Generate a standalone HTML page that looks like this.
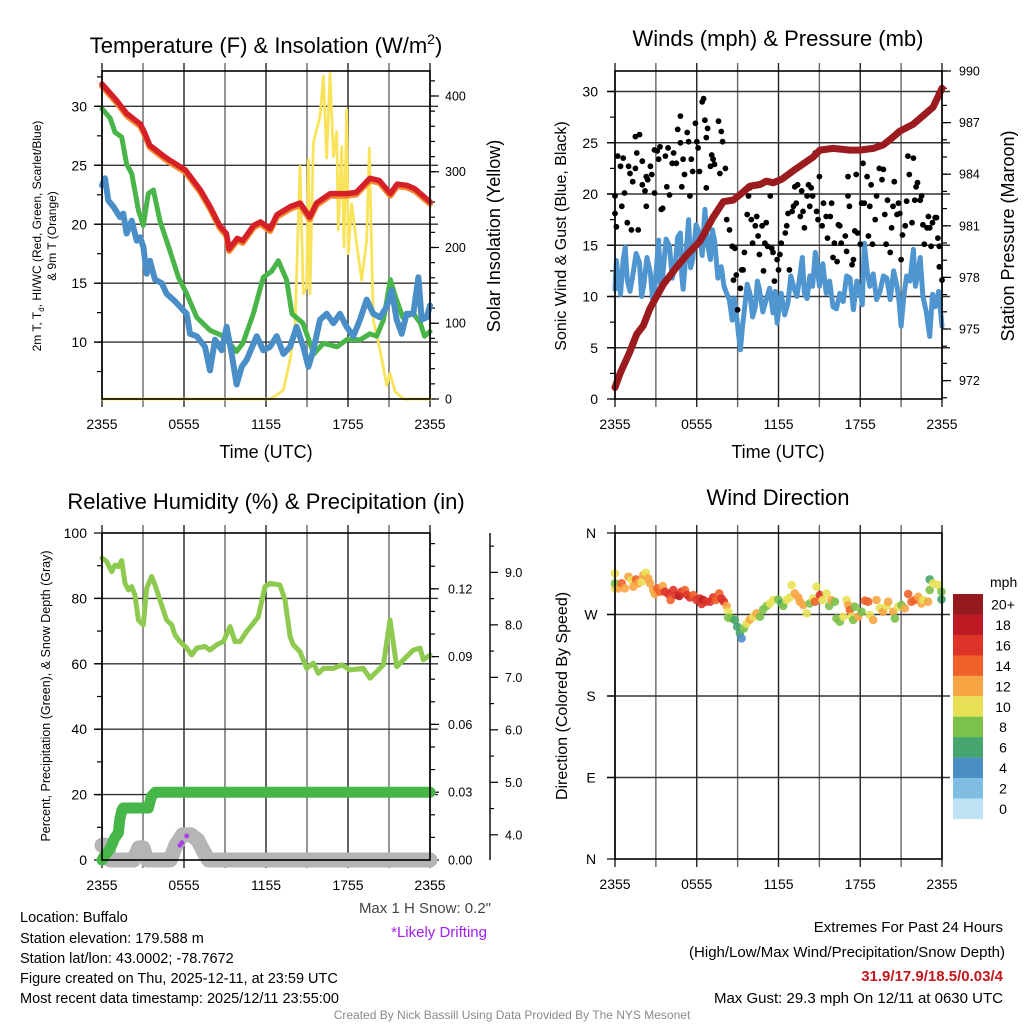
<!DOCTYPE html>
<html><head><meta charset="utf-8">
<style>
html,body{margin:0;padding:0;background:#fff;}
svg{display:block;font-family:"Liberation Sans",Arial,sans-serif;}
</style></head>
<body>
<svg id="fig" xmlns="http://www.w3.org/2000/svg" width="1024" height="1024" viewBox="0 0 1024 1024">
<rect x="0" y="0" width="1024" height="1024" fill="#fff"/>
<g id="p1"></g>
<g id="p2"></g>
<g id="p3"></g>
<g id="p4"></g>

<text x="266" y="53" font-size="22" text-anchor="middle">Temperature (F) &amp; Insolation (W/m<tspan font-size="14" dy="-9">2</tspan><tspan dy="9">)</tspan></text>
<text x="778" y="46" font-size="22" text-anchor="middle">Winds (mph) &amp; Pressure (mb)</text>
<text x="266" y="509" font-size="22" text-anchor="middle">Relative Humidity (%) &amp; Precipitation (in)</text>
<text x="778" y="505" font-size="22" text-anchor="middle">Wind Direction</text>

<text x="266" y="458" font-size="18" text-anchor="middle">Time (UTC)</text>
<text x="778" y="458" font-size="18" text-anchor="middle">Time (UTC)</text>

<text transform="translate(41,236) rotate(-90)" font-size="12" text-anchor="middle">2m T, T<tspan font-size="8" dy="3">d</tspan><tspan dy="-3">, HI/WC (Red, Green, Scarlet/Blue)</tspan></text>
<text transform="translate(56,236) rotate(-90)" font-size="12" text-anchor="middle">&amp; 9m T (Orange)</text>
<text transform="translate(500,236) rotate(-90)" font-size="18" text-anchor="middle">Solar Insolation (Yellow)</text>
<text transform="translate(566,236) rotate(-90)" font-size="16" text-anchor="middle">Sonic Wind &amp; Gust (Blue, Black)</text>
<text transform="translate(1014,236) rotate(-90)" font-size="18" text-anchor="middle">Station Pressure (Maroon)</text>
<text transform="translate(50,696) rotate(-90)" font-size="12.5" text-anchor="middle">Percent, Precipitation (Green), &amp; Snow Depth (Gray)</text>
<text transform="translate(567,696) rotate(-90)" font-size="16" text-anchor="middle">Direction (Colored By Speed)</text>

<text x="491" y="913" font-size="15" fill="#444" text-anchor="end">Max 1 H Snow: 0.2"</text>
<text x="487" y="937" font-size="15" fill="#a020f0" text-anchor="end">*Likely Drifting</text>

<g font-size="14.5">
<text x="20" y="922">Location: Buffalo</text>
<text x="20" y="943">Station elevation: 179.588 m</text>
<text x="20" y="963">Station lat/lon: 43.0002; -78.7672</text>
<text x="20" y="983">Figure created on Thu, 2025-12-11, at 23:59 UTC</text>
<text x="20" y="1003">Most recent data timestamp: 2025/12/11 23:55:00</text>
</g>
<g font-size="15" text-anchor="end">
<text x="1003" y="932">Extremes For Past 24 Hours</text>
<text x="1005" y="957">(High/Low/Max Wind/Precipitation/Snow Depth)</text>
<text x="1003" y="981" fill="#c0181e" font-weight="bold">31.9/17.9/18.5/0.03/4</text>
<text x="1003" y="1003">Max Gust: 29.3 mph On 12/11 at 0630 UTC</text>
</g>
<text x="512" y="1019" font-size="12" fill="#8a8a8a" text-anchor="middle">Created By Nick Bassill Using Data Provided By The NYS Mesonet</text>
</svg>

<script>
// ---------- Panel 1 data ----------
const tempH = [0,1.07,1.8,2.8,3.1,3.5,4.5,5.0,6.1,7.2,7.9,8.6,9.1,9.3,9.9,10.3,11.1,11.6,12.3,12.8,13.8,14.5,15.2,15.7,16.7,17.9,18.6,19.6,20.3,21.1,21.6,22.3,22.9,24];
const tempV = [31.9,30.5,29.4,28.5,27.8,26.7,25.8,25.4,24.6,22.9,21.5,19.9,19.2,17.9,18.8,18.6,19.9,20.2,19.6,20.8,21.5,21.8,20.6,21.8,22.6,22.6,22.7,23.9,23.7,22.6,23.4,23.3,23.0,21.9];
const hiwcH = [0,0.59,0.95,1.44,1.8,2.17,2.66,3.02,3.39,3.76,4.24,4.98,5.59,6.2,6.93,7.9,8.88,9.85,10.3,11.07,11.8,12.4,12.9,13.5,13.9,14.7,15.5,16.2,17.2,17.9,18.9,19.6,20.1,20.6,21.1,21.4,22.0,22.8,23.3,23.6,24];
const hiwcV = [29.8,29.0,27.8,27.4,25.1,24.3,21.2,19.9,22.6,22.9,20.3,17.7,15.5,14.1,12.1,11.0,10.5,9.2,9.9,12.4,15.5,16.0,16.9,15.3,12.4,11.6,9.0,9.9,9.6,10.2,10.2,10.7,10.5,11.9,15.3,14.1,12.1,12.4,11.6,10.5,10.9];
const dewH = [0,0.22,0.46,0.83,1.32,1.56,1.8,2.17,2.54,2.78,3.02,3.27,3.51,3.88,4.37,4.73,5.22,5.71,6.2,6.44,6.93,7.54,7.9,8.27,8.76,9.12,9.49,9.85,10.22,10.59,11.32,11.8,12.29,12.78,13.27,13.76,14.24,14.73,15.1,15.46,15.95,16.44,16.93,17.41,17.9,18.39,18.88,19.37,19.85,20.34,20.83,21.2,21.56,21.93,22.29,22.78,23.15,23.39,23.76,24];
const dewV = [23.3,23.9,22.0,21.5,20.6,20.9,19.2,20.3,18.6,18.9,18.1,15.8,16.9,15.3,15.0,14.1,13.6,13.0,12.4,10.7,10.5,9.6,7.6,10.2,9.3,11.3,9.0,6.4,7.9,8.5,10.5,9.3,9.6,10.5,9.0,9.6,11.3,9.6,7.9,9.3,11.9,12.4,11.6,12.4,11.3,10.5,11.9,13.6,12.4,12.1,13.0,14.4,11.9,10.7,12.4,12.4,15.5,11.9,12.1,13.1];
const solarH = [0,12.29,12.78,13.27,13.76,14.12,14.49,14.73,14.98,15.1,15.22,15.46,15.95,16.2,16.44,16.68,16.93,17.17,17.29,17.54,17.71,17.9,18.02,18.27,18.63,19.0,19.37,19.56,19.85,20.34,20.83,21.07,21.44,22.05,24];
const solarV = [0,0,5,12,52,96,307,139,148,316,139,338,373,426,318,430,320,353,223,333,201,382,192,258,205,157,210,331,104,65,18,34,10,0,0];
const p1LeftTicks = [10,15,20,25,30];
const p1RightTicks = [0,100,200,300,400];
// ---------- Panel 2 data ----------
const presH = [0,0.37,1.1,1.59,2.08,2.57,3.55,4.52,5.26,6.23,7.21,7.95,8.68,9.17,9.9,10.64,11.12,11.61,12.22,13.08,13.81,14.55,15.04,16.01,17.24,17.97,18.95,19.68,20.17,20.9,21.88,22.62,23.35,24];
const presV = [971.6,972.4,973.7,974.7,975.2,976.2,977.6,978.6,979.3,980.1,981.5,982.4,982.5,982.8,983.3,983.4,983.6,983.5,983.7,984.2,984.6,985.0,985.4,985.5,985.4,985.4,985.5,985.7,986.0,986.5,986.9,987.4,987.9,989.0];
const windH = [0,0.1,0.2,0.4,0.6,0.75,0.9,1.1,1.3,1.55,1.8,1.95,2.1,2.35,2.6,2.75,2.9,3.05,3.2,3.35,3.5,3.75,4.0,4.2,4.4,4.6,4.8,4.9,5.0,5.2,5.4,5.55,5.7,5.95,6.2,6.4,6.6,6.8,7.0,7.15,7.3,7.55,7.8,8.0,8.2,8.4,8.6,8.75,8.9,9.05,9.2,9.35,9.5,9.7,9.9,10.1,10.3,10.45,10.6,10.85,11.1,11.35,11.6,11.75,11.9,12.05,12.2,12.45,12.7,12.9,13.1,13.35,13.6,13.75,13.9,14.1,14.3,14.5,14.7,14.85,15.0,15.25,15.5,15.75,16.0,16.25,16.5,16.75,17.0,17.25,17.5,17.75,18.0,18.15,18.3,18.5,18.7,18.95,19.2,19.45,19.7,19.95,20.2,20.45,20.7,20.85,21.0,21.2,21.4,21.65,21.9,22.05,22.2,22.4,22.6,22.85,23.1,23.3,23.5,23.75,24.0];
const windV = [10.7,13.5,12.3,10.2,13.6,14.8,11.6,10.5,12.0,14.2,13.3,10.0,11.0,13.8,12.3,9.8,10.3,13.0,15.5,11.2,12.0,15.6,14.9,11.8,12.9,15.8,16.2,12.0,10.7,14.0,17.5,12.8,13.6,17.0,16.2,14.0,18.5,15.0,13.6,16.5,15.5,11.8,12.9,11.0,10.3,9.6,7.7,9.8,8.4,6.5,4.8,7.0,8.7,11.2,10.3,8.0,9.0,11.5,10.7,8.5,9.7,10.8,8.4,10.5,7.4,9.0,10.3,8.2,9.4,12.0,11.0,10.0,12.3,13.8,10.3,9.8,12.0,11.0,14.3,13.0,11.0,13.2,10.3,11.5,9.0,8.8,10.3,9.5,12.0,11.8,8.7,11.5,10.3,9.2,15.2,12.5,11.0,12.2,9.7,10.5,12.0,11.8,9.7,12.5,11.0,9.5,7.1,10.0,12.0,11.5,14.6,11.0,12.0,13.8,10.0,8.5,6.1,10.2,9.0,10.5,7.1];
const gustH = [0,0,0.1,0.2,0.4,0.5,0.6,0.7,0.9,1.0,1.1,1.2,1.3,1.5,1.6,1.7,1.5,1.8,2.0,2.0,2.2,2.3,2.3,2.4,2.6,2.7,2.9,2.9,3.1,3.2,3.3,3.4,3.5,3.7,3.8,3.9,4.0,4.2,4.3,4.5,4.6,4.8,4.8,4.9,5.0,5.1,5.3,5.4,5.5,5.6,5.7,5.9,6.0,6.1,6.2,6.4,6.5,6.6,6.7,6.7,6.8,7.0,7.1,7.2,7.3,7.6,7.7,7.8,7.9,8.1,8.2,8.4,8.6,8.7,8.8,8.9,9.0,9.2,9.3,9.4,9.5,9.7,9.8,9.9,10.0,10.1,10.3,10.4,10.5,10.6,10.8,10.9,11.0,11.1,11.2,11.4,11.5,11.6,11.7,11.9,12.0,12.1,12.2,12.5,12.6,12.7,12.8,13.0,13.1,13.2,13.3,13.4,13.6,13.7,13.8,13.9,14.1,14.2,14.3,14.4,14.5,14.7,14.8,14.9,15.0,15.2,15.3,15.5,15.6,15.8,15.9,16.0,16.1,16.3,16.4,16.5,16.6,16.9,17.0,17.1,17.1,17.2,17.4,17.5,17.6,17.7,17.8,18.0,18.1,18.2,18.3,18.5,18.6,18.7,18.8,18.9,19.1,19.2,19.4,19.6,19.7,19.8,19.9,20.0,20.2,20.3,20.4,20.5,20.7,20.8,20.9,21.0,21.1,21.3,21.4,21.5,21.6,21.8,21.9,22.0,22.1,22.2,22.4,22.5,22.6,22.7,22.9,23.0,23.1,23.2,23.3,23.5,23.6,23.7,23.8,23.8,24.0];
const gustV = [19.8,18.1,16.8,23.7,22.7,18.8,23.5,20.1,17.2,22.7,22.0,16.5,21.2,22.5,24.0,16.5,25.6,25.8,23.2,20.9,20.3,18.8,21.7,21.4,22.7,21.9,20.1,24.3,24.2,23.4,24.6,18.5,18.6,23.7,20.7,24.5,19.9,23.0,24.0,23.0,26.3,27.6,25.0,20.7,23.4,21.9,26.0,25.1,19.8,23.4,22.2,26.9,25.1,24.5,22.2,29.0,29.3,27.2,25.5,20.6,26.4,22.7,23.8,23.4,22.9,27.1,22.0,26.1,25.1,22.5,17.5,16.5,14.9,11.6,14.7,12.1,8.7,10.8,12.6,12.6,14.3,18.0,19.8,20.6,17.5,15.2,16.9,17.8,15.9,14.1,16.9,12.5,15.2,17.2,14.9,19.8,14.7,14.3,11.5,13.6,12.6,14.1,15.2,16.2,16.9,18.1,12.6,18.3,18.8,20.7,19.1,20.9,17.8,20.3,18.3,16.7,19.8,20.9,18.8,20.6,19.8,24.0,18.3,17.5,21.7,16.9,19.1,17.8,15.7,17.8,19.1,13.8,15.2,13.4,17.0,16.9,15.2,15.9,14.4,19.8,21.7,18.8,13.1,13.6,16.4,21.9,16.2,15.1,19.1,23.0,19.1,21.7,15.9,18.8,20.9,15.1,17.5,19.8,22.5,21.4,22.4,18.0,15.1,19.4,14.3,16.7,18.8,21.2,18.0,19.1,18.1,13.6,16.0,16.9,19.3,23.7,21.9,17.2,23.5,19.4,20.7,21.1,19.4,19.8,17.0,15.1,16.7,17.8,16.7,14.9,17.2,17.7,17.7,15.7,14.9,12.9,11.6];
const p2LeftTicks = [0,5,10,15,20,25,30];
const p2RightTicks = [972,975,978,981,984,987,990];
// ---------- Panel 3 data ----------
const rhH = [0,0.34,0.71,0.95,1.2,1.44,1.68,1.93,2.17,2.41,2.66,3.02,3.27,3.63,3.88,4.24,4.73,5.1,5.34,5.71,6.2,6.56,6.93,7.54,7.9,8.39,8.88,9.37,9.73,10.1,10.59,11.07,11.44,11.93,12.29,13.02,13.39,13.76,14.0,14.49,14.98,15.46,15.83,16.2,16.93,17.54,18.15,19.12,19.61,20.1,20.59,21.07,21.56,22.29,22.78,23.27,23.51,24];
const rhV = [92.3,91.3,88.2,90.2,89.7,91.6,84.6,82.6,83.6,81.1,73.4,71.9,83.1,86.7,84.1,79.5,73.4,71.9,68.8,66.8,64.8,62.7,64.8,65.3,64.2,65.8,66.8,71.4,66.8,66.8,69.9,72.4,74.4,83.6,84.6,84.1,79.5,68.3,65.8,63.7,58.6,60.2,57.1,58.6,58.6,59.7,58.1,58.6,55.6,57.6,59.7,73.4,59.1,62.2,64.2,64.8,61.2,62.7];
const precipH = [0,0.2,0.6,0.95,1.2,1.3,1.45,1.55,2.8,3.4,3.6,3.9,24];
const precipV = [0,0.002,0.005,0.01,0.012,0.018,0.022,0.023,0.023,0.023,0.028,0.03,0.03];
const snowH = [0,0.3,0.6,2.3,2.7,3.0,3.3,5.0,5.4,5.9,6.5,7.0,7.4,7.8,24];
const snowV = [3.8,3.8,3.52,3.52,3.75,3.75,3.52,3.52,3.8,4.0,4.0,3.9,3.7,3.52,3.52];
const driftH = [5.7,5.85,6.2];
const driftV = [3.8,3.85,3.98];
const p3LeftTicks = [0,20,40,60,80,100];
const p3PrecipTicks = [0,0.03,0.06,0.09,0.12];
const p3PrecipLabels = ['0.00','0.03','0.06','0.09','0.12'];
const p3SnowTicks = [4,5,6,7,8,9];
// ---------- Panel 4 data ----------
const dirH = [0,0,0,0.24,0.49,0.73,0.98,1.22,1.34,1.54,1.71,1.96,2.08,2.27,2.44,2.57,2.81,2.93,3.11,3.3,3.5,3.67,3.91,4.08,4.28,4.47,4.72,4.89,5.13,5.31,5.5,5.75,5.99,6.23,6.36,6.48,6.67,6.97,7.21,7.41,7.65,7.82,7.99,8.19,8.31,8.31,8.56,8.8,8.97,9.17,9.29,9.46,9.66,9.9,10.15,10.39,10.64,10.88,11.12,11.37,11.61,11.98,12.22,12.35,12.59,12.84,12.96,13.2,13.45,13.57,13.81,14.06,14.3,14.55,14.67,14.79,15.04,15.23,15.53,15.72,15.89,16.14,16.26,16.5,16.75,16.99,17.11,17.24,17.36,17.48,17.6,17.85,18.09,18.34,18.58,18.7,18.95,19.19,19.44,19.68,19.93,20.05,20.42,20.54,20.78,21.03,21.27,21.52,21.76,22.0,22.25,22.49,22.62,22.98,23.1,23.1,23.35,23.72,23.96,23.96];
const dirDeg = [315.4,298.9,304.4,298.9,304.4,298.9,311.7,308.1,300.7,308.8,304.4,306.2,313.6,316.2,309.9,304.4,297.0,292.6,298.9,295.2,301.4,295.2,292.6,286.0,297.0,291.5,290.4,295.2,297.0,291.5,288.9,291.5,286.0,287.8,281.6,286.0,284.1,284.1,288.9,286.0,293.3,287.8,284.1,279.4,273.1,266.5,265.7,263.9,256.5,249.2,243.7,254.7,260.2,264.6,267.6,271.3,267.6,275.7,279.4,282.3,286.0,286.7,282.3,279.4,286.0,288.9,302.5,293.3,288.9,284.1,280.5,271.3,282.3,287.8,284.1,300.7,291.5,286.0,293.3,279.4,286.0,284.1,265.7,262.1,267.6,286.0,280.5,275.0,267.6,263.9,278.6,267.6,273.1,285.2,284.1,269.4,263.9,286.0,276.8,273.1,279.4,284.1,273.1,265.7,278.6,280.5,276.8,292.6,284.1,286.0,289.6,282.3,286.0,284.1,308.8,297.0,304.4,302.5,295.2,286.7];
const dirSpd = [10,10,8,12,14,12,12,10,12,14,12,10,12,10,12,12,12,12,14,14,12,16,16,14,16,16,18,16,14,16,16,14,16,16,16,18,16,16,16,14,14,16,16,12,10,8,8,6,6,6,4,8,10,12,10,12,8,8,8,10,10,8,6,8,10,10,10,12,12,12,12,10,8,10,14,10,16,10,10,8,12,8,8,8,10,10,12,14,10,8,8,12,8,14,14,10,12,12,10,12,10,12,12,8,10,8,12,14,14,14,12,12,10,12,6,8,10,10,8,6];
const dirTicks = [0,90,180,270,360];
const dirLabels = ['N','E','S','W','N'];
const cbLabels = ['20+','18','16','14','12','10','8','6','4','2','0'];
const cbColors = ['#941a1d','#bd1c25','#dd3328','#f0612a','#f7a542','#e8e157','#7cc14a','#46a56e','#4a8fc6','#7fbde3','#bde3f5'];
const timeTicks = [0,6,12,18,24];
const timeLabels = ['2355','0555','1155','1755','2355'];

const NS='http://www.w3.org/2000/svg';
function mk(parent, tag, attrs){
  const e=document.createElementNS(NS,tag);
  for(const k in attrs) e.setAttribute(k,attrs[k]);
  parent.appendChild(e); return e;
}
function scale(d0,d1,r0,r1){ return v => r0+(v-d0)/(d1-d0)*(r1-r0); }

function frame(g, b, xs, gridY, name){
  for(let h=0; h<=24; h+=3){
    const x=xs(h);
    const l=mk(g,'line',{x1:x,x2:x,y1:b.y0-8,y2:b.y1+8,stroke:(h%6===0?'#222':'#666'),'stroke-width':1.4});
    
    
  }
  gridY.forEach(y=>{
    const l=mk(g,'line',{x1:b.x0-8,x2:b.x1+8,y1:y,y2:y,stroke:'#333','stroke-width':1.4});
    
    
  });
  timeTicks.forEach((t,i)=>{
    const tx=mk(g,'text',{x:xs(t),y:b.y1+30,'font-size':14,'text-anchor':'middle'});
    tx.textContent=timeLabels[i];
    
    
  });
}
function box(g,b,name){
  const r=mk(g,'rect',{x:b.x0,y:b.y0,width:b.x1-b.x0,height:b.y1-b.y0,fill:'none',stroke:'#000','stroke-width':1.6});
  
  
}
function axisTicks(g, x, dir, ys, len, name){
  ys.forEach(y=>{
    const l=mk(g,'line',{x1:x,x2:x+dir*len,y1:y,y2:y,stroke:'#000','stroke-width':1.2});
    
    
  });
}
function labels(g, x, anchor, ys, txts, fs, name){
  ys.forEach((y,i)=>{
    const t=mk(g,'text',{x:x,y:y+fs*0.36,'font-size':fs,'text-anchor':anchor});
    t.textContent=txts[i];
    
    
  });
}
function path(g, H, V, xs, ys, attrs, name){
  let d='';
  H.forEach((h,i)=>{ d+=(i?'L':'M')+xs(h).toFixed(1)+','+ys(V[i]).toFixed(1); });
  const p=mk(g,'path',Object.assign({d:d,fill:'none','stroke-linejoin':'round','stroke-linecap':'round'},attrs));
  
  
  return p;
}
function range(a,b,s){ const r=[]; for(let v=a; v<=b+1e-9; v+=s) r.push(+v.toFixed(4)); return r; }

// ===== Panel 1 =====
(function(){
  const g=document.getElementById('p1');
  const b={x0:102,x1:430,y0:71,y1:399};
  const xs=scale(0,24,b.x0,b.x1);
  const yl=scale(5.17,33,b.y1,b.y0);
  const yr=scale(0,433,b.y1,b.y0);
  frame(g,b,xs,p1LeftTicks.map(yl),'p1');
  axisTicks(g,b.x0,-1,range(7.5,32.5,2.5).map(yl),5,'p1-left-minor-tick');
  axisTicks(g,b.x0,-1,p1LeftTicks.map(yl),8,'p1-left-tick');
  axisTicks(g,b.x1,1,range(0,420,20).map(yr),5,'p1-right-minor-tick');
  axisTicks(g,b.x1,1,p1RightTicks.map(yr),9,'p1-right-tick');
  labels(g,87,'end',p1LeftTicks.map(yl),p1LeftTicks.map(String),14,'p1-left-tick-label');
  labels(g,445,'start',p1RightTicks.map(yr),p1RightTicks.map(String),12.5,'p1-right-tick-label');
  path(g,solarH,solarV,xs,yr,{stroke:'#f9e35a','stroke-width':2.8},'solar-line');
  path(g,tempH,tempV.map(v=>v-0.18),xs,yl,{stroke:'#f4892f','stroke-width':6},'temp-9m-line');
  path(g,tempH,tempV,xs,yl,{stroke:'#d62027','stroke-width':5.5},'temp-2m-line');
  path(g,hiwcH,hiwcV,xs,yl,{stroke:'#49b549','stroke-width':5},'heat-index-line');
  path(g,dewH,dewV,xs,yl,{stroke:'#4a8ec8','stroke-width':6},'dewpoint-line');
  box(g,b,'p1');
})();

// ===== Panel 2 =====
(function(){
  const g=document.getElementById('p2');
  const b={x0:615,x1:942,y0:71,y1:399};
  const xs=scale(0,24,b.x0,b.x1);
  const yl=scale(0,32,b.y1,b.y0);
  const yr=scale(970.93,990,b.y1,b.y0);
  frame(g,b,xs,p2LeftTicks.slice(1).map(yl),'p2');
  axisTicks(g,b.x0,-1,range(0,30,2.5).map(yl),5,'p2-left-minor-tick');
  axisTicks(g,b.x0,-1,p2LeftTicks.map(yl),8,'p2-left-tick');
  axisTicks(g,b.x1,1,range(971,990,1).map(yr),5,'p2-right-minor-tick');
  axisTicks(g,b.x1,1,p2RightTicks.map(yr),9,'p2-right-tick');
  labels(g,598,'end',p2LeftTicks.map(yl),p2LeftTicks.map(String),14,'p2-left-tick-label');
  labels(g,959,'start',p2RightTicks.map(yr),p2RightTicks.map(String),12.5,'p2-right-tick-label');
  path(g,windH,windV,xs,yl,{stroke:'#4f95d0','stroke-width':5},'sonic-wind-line');
  gustH.forEach((h,i)=>{
    const c=mk(g,'circle',{cx:xs(h).toFixed(1),cy:yl(gustV[i]).toFixed(1),r:2.9,fill:'#000'});
    
    
  });
  path(g,presH,presV,xs,yr,{stroke:'#9b1b1e','stroke-width':7},'pressure-line');
  box(g,b,'p2');
})();

// ===== Panel 3 =====
(function(){
  const g=document.getElementById('p3');
  const b={x0:102,x1:430,y0:533,y1:860};
  const xs=scale(0,24,b.x0,b.x1);
  const yl=scale(0,100,b.y1,b.y0);
  const yp=scale(0,0.1447,b.y1,b.y0);
  const ysn=scale(3.52,9.75,b.y1,b.y0);
  frame(g,b,xs,p3LeftTicks.slice(1,5).map(yl),'p3');
  axisTicks(g,b.x0,-1,range(10,90,10).map(yl),5,'p3-left-minor-tick');
  axisTicks(g,b.x0,-1,p3LeftTicks.map(yl),8,'p3-left-tick');
  axisTicks(g,b.x1,1,range(0,0.14,0.01).map(yp),5,'p3-precip-minor-tick');
  axisTicks(g,b.x1,1,p3PrecipTicks.map(yp),9,'p3-precip-tick');
  labels(g,87,'end',p3LeftTicks.map(yl),p3LeftTicks.map(String),14,'p3-left-tick-label');
  labels(g,448,'start',p3PrecipTicks.map(yp),p3PrecipLabels,12.5,'p3-precip-tick-label');
  const ax=mk(g,'line',{x1:490,x2:490,y1:b.y0,y2:b.y1,stroke:'#000','stroke-width':1.4});
  
  
  axisTicks(g,490,1,range(4.5,9.5,1).map(ysn),4,'snow-minor-tick');
  axisTicks(g,490,1,p3SnowTicks.map(ysn),8,'snow-tick');
  labels(g,505,'start',p3SnowTicks.map(ysn),p3SnowTicks.map(v=>v.toFixed(1)),12.5,'snow-tick-label');
  path(g,snowH,snowV,xs,ysn,{stroke:'#b5b5b5','stroke-width':15},'snow-depth-line');
  path(g,rhH,rhV,xs,yl,{stroke:'#8fca50','stroke-width':5},'humidity-line');
  path(g,precipH,precipV,xs,yp,{stroke:'#47b649','stroke-width':11},'precip-line');
  driftH.forEach((h,i)=>{
    const c=mk(g,'circle',{cx:xs(h).toFixed(1),cy:ysn(driftV[i]).toFixed(1),r:2.4,fill:'#a83ee8'});
    
    
  });
  box(g,b,'p3');
})();

// ===== Panel 4 =====
(function(){
  const g=document.getElementById('p4');
  const b={x0:615,x1:942,y0:533,y1:859};
  const xs=scale(0,24,b.x0,b.x1);
  const yd=scale(0,360,b.y1,b.y0);
  frame(g,b,xs,dirTicks.slice(1,4).map(yd),'p4');
  axisTicks(g,b.x0,-1,dirTicks.map(yd),8,'p4-left-tick');
  labels(g,591,'middle',dirTicks.map(yd),dirLabels,14,'p4-direction-label');
  dirH.forEach((h,i)=>{
    const bin=Math.min(10,Math.floor(dirSpd[i]/2));
    const c=mk(g,'circle',{cx:xs(h).toFixed(1),cy:yd(dirDeg[i]).toFixed(1),r:4.3,fill:cbColors[10-bin],'fill-opacity':0.9});
    
    
  });
  box(g,b,'p4');
  const t=mk(g,'text',{x:990,y:587,'font-size':14});
  t.textContent='mph';
  
  
  cbColors.forEach((c,i)=>{
    const y=594+i*20.45;
    const r=mk(g,'rect',{x:953,y:y.toFixed(1),width:30,height:20.6,fill:c});
    
    
    const tl=mk(g,'text',{x:1003,y:(y+15.5).toFixed(1),'font-size':14,'text-anchor':'middle'});
    tl.textContent=cbLabels[i];
    
    
  });
})();
</script>
</body></html>
